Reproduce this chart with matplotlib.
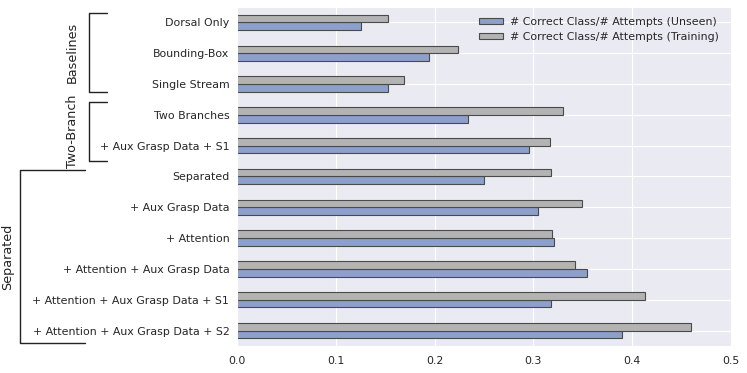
import numpy as np
import seaborn as sns
from matplotlib import pyplot as plt
from matplotlib.lines import Line2D

# =============================================================================
# Data
# =============================================================================

labels = ["Dorsal Only", "Bounding-Box", "Single Stream", "Two Branches",
          "+ Aux Grasp Data + S1", "Separated", "+ Aux Grasp Data",
          "+ Attention", "+ Attention + Aux Grasp Data",
          "+ Attention + Aux Grasp Data + S1",
          "+ Attention + Aux Grasp Data + S2"]
unseen = [0.126, 0.194, 0.153, 0.234, 0.296, 0.250, 0.305, 0.321, 0.354,
          0.318, 0.390]
training = [0.153, 0.224, 0.169, 0.330, 0.317, 0.318, 0.349, 0.319, 0.342,
            0.413, 0.460]
series_names = ["# Correct Class/# Attempts (Unseen)",
                "# Correct Class/# Attempts (Training)"]

# group brackets: name, top px, bottom px, vertical line x px, right end x px,
# label x px
groups = [("Baselines", 13, 92, 89, 107, 72),
          ("Two-Branch", 102, 161, 89, 107, 72),
          ("Separated", 170, 343, 20, 85, 8)]

W, H = 747, 373

sns.set_style("darkgrid")
plt.rcParams['font.family'] = ['DejaVu Sans']
fig = plt.figure(figsize=(W / 100, H / 100), dpi=100)
ax = fig.add_axes([237 / W, 1 - 346 / H, (731 - 237) / W, (346 - 7) / H])

y = np.arange(len(labels))
h = 0.25
ax.barh(y + h / 2, unseen, height=h, color="#8DA0CB", edgecolor="#4a4a4a",
        linewidth=0.8, label=series_names[0])
ax.barh(y - h / 2, training, height=h, color="#B3B3B3", edgecolor="#4a4a4a",
        linewidth=0.8, label=series_names[1])

ax.set_yticks(y)
ax.set_yticklabels(labels, fontsize=7.9)
ax.set_ylim(len(labels) - 0.5, -0.5)
ax.set_xlim(0, 0.5)
ax.set_xticks(np.arange(0, 0.51, 0.1))
ax.tick_params(axis="x", labelsize=7.9, pad=3.5)
ax.tick_params(axis="y", pad=2)

ax.legend(loc="upper right", fontsize=7.9, frameon=False,
          labelspacing=0.45, handlelength=2.2, handleheight=0.55,
          handletextpad=0.6, bbox_to_anchor=(0.995, 1.0))

# brackets on the left grouping the methods
for name, top, bot, xv, xr, xl in groups:
    xs = [xr / W, xv / W, xv / W, xr / W]
    ys = [1 - top / H, 1 - top / H, 1 - bot / H, 1 - bot / H]
    fig.add_artist(Line2D(xs, ys, color="#222222", linewidth=1.0,
                          transform=fig.transFigure))
    fig.text(xl / W, 1 - (top + bot) / 2 / H, name, rotation=90,
             ha="center", va="center", fontsize=9.2, color="#222222")

fig.savefig("out.png", dpi=100)
